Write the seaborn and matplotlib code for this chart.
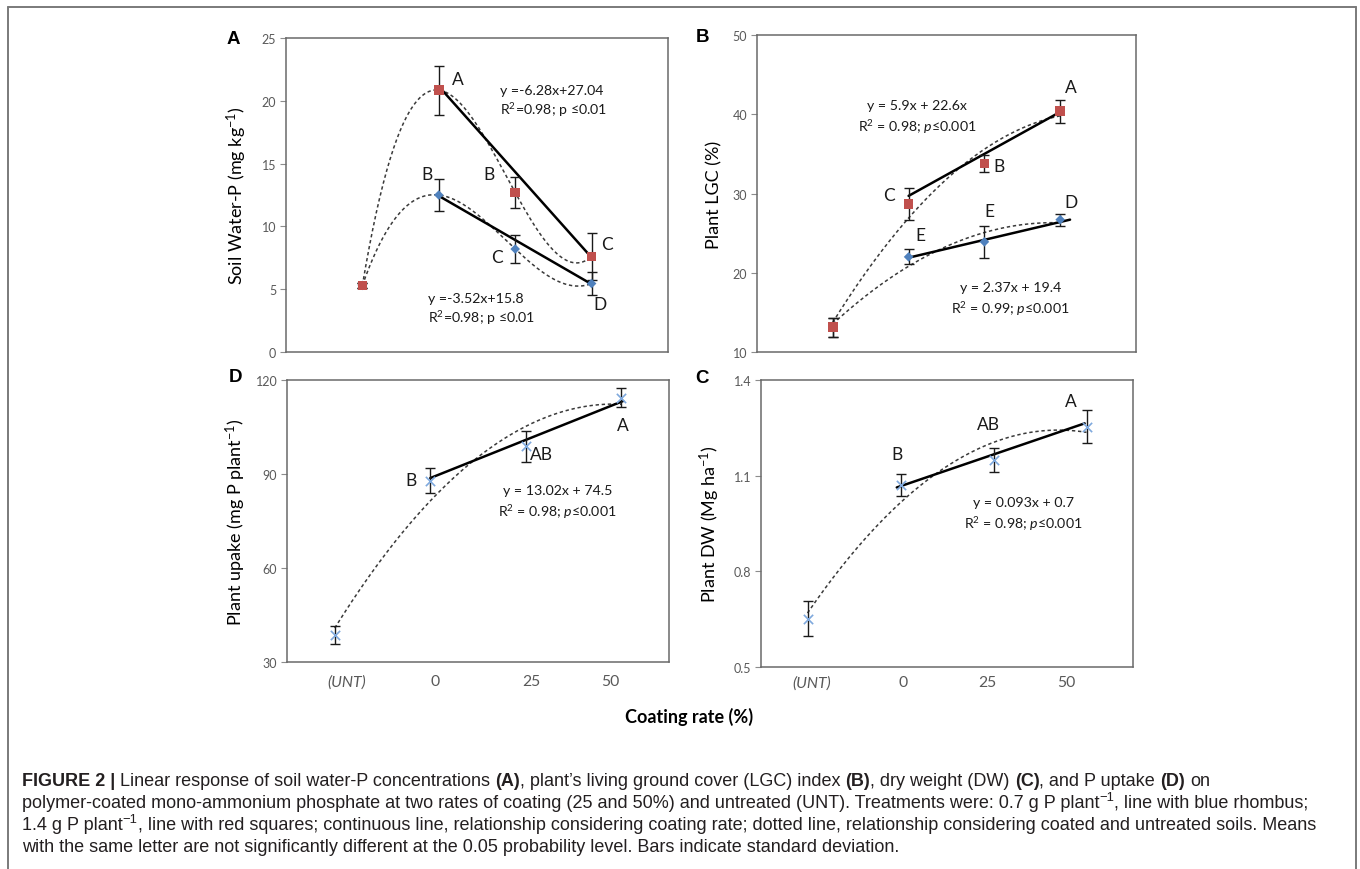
import numpy as np
import pandas as pd
import matplotlib
matplotlib.use("Agg")
import matplotlib.pyplot as plt
import seaborn as sns
from matplotlib.lines import Line2D

# ---------------- data ----------------
categories = ["(UNT)", "0", "25", "50"]
cat_pos = [1, 2, 3, 4]

# Panel A: soil water-P (mg kg-1)
a_red = [5.3, 20.85, 12.7, 7.6]
a_red_sd = [0.2, 1.95, 1.25, 1.9]
a_blue = [5.3, 12.5, 8.2, 5.45]
a_blue_sd = [0.2, 1.3, 1.1, 0.95]
a_red_trend = [21.15, 7.52]
a_blue_trend = [12.43, 5.4]

# Panel B: plant LGC (%)
b_red = [13.15, 28.7, 33.8, 40.4]
b_red_sd = [1.2, 2.0, 1.1, 1.45]
b_blue = [13.15, 22.0, 23.9, 26.7]
b_blue_sd = [1.2, 0.95, 2.0, 0.75]
b_red_trend = [29.7, 40.4]
b_blue_trend = [21.9, 26.7]

# Panel D: plant P uptake (mg P plant-1)
d_vals = [38.7, 87.8, 98.8, 114.4]
d_sd = [2.9, 4.0, 5.0, 3.0]
d_trend = [88.7, 113.3]

# Panel C: plant DW (Mg ha-1)
c_vals = [0.651, 1.070, 1.150, 1.254]
c_sd = [0.055, 0.034, 0.037, 0.053]
c_trend = [1.063, 1.264]

# ---------------- style ----------------
W, H = 1360, 870
RED = "#C0504D"
BLUE = "#4F81BD"
LBLUE = "#7FA9DD"
TICKC = "#595959"
CHART_FONT = ["Lato", "DejaVu Sans"]
CAP_FONT = ["Liberation Sans", "DejaVu Sans"]

sns.set_theme(style="white")
plt.rcParams["font.family"] = CHART_FONT
plt.rcParams["mathtext.fontset"] = "custom"
plt.rcParams["mathtext.rm"] = "Lato"
plt.rcParams["mathtext.it"] = "Lato:italic"
plt.rcParams["mathtext.bf"] = "Lato:bold"
plt.rcParams["mathtext.sf"] = "Lato"

fig = plt.figure(figsize=(W / 100, H / 100), dpi=100)
fig.patch.set_facecolor("white")

YLAB_SIZE = 13
XT_SIZE = 11.3
YT_SIZE = 9


def rect(l, t, r, b):
    return [l / W, 1 - b / H, (r - l) / W, (b - t) / H]


def fx(px):
    return px / W


def fy(py):
    return 1 - py / H


def style_axes(ax, xlim, ylim, yticks, ylabels):
    ax.set_xlim(*xlim)
    ax.set_ylim(*ylim)
    ax.set_yticks(yticks)
    ax.set_yticklabels(ylabels)
    for s in ax.spines.values():
        s.set_visible(True)
        s.set_color("#6a6a6a")
        s.set_linewidth(1.1)
    ax.tick_params(axis="y", left=True, direction="out", length=4, width=0.8,
                   color="#8c8c8c", labelsize=YT_SIZE, labelcolor=TICKC, pad=3)
    ax.tick_params(axis="x", bottom=False, length=0)
    ax.set_xlabel("")
    ax.grid(False)


def dotted_fit(ax, xs, ys, deg):
    coef = np.polyfit(xs, ys, deg)
    xx = np.linspace(min(xs), max(xs), 200)
    yy = np.polyval(coef, xx)
    sns.lineplot(x=xx, y=yy, ax=ax, color="#3a3a3a", lw=1.1,
                 linestyle=(0, (2.2, 1.8)), estimator=None, sort=False, zorder=2)


def trend(ax, xs, ys):
    sns.lineplot(x=xs, y=ys, ax=ax, color="black", lw=1.8, estimator=None,
                 sort=False, zorder=3)


def errs(ax, xs, ys, sd):
    ax.errorbar(xs, ys, yerr=sd, fmt="none", ecolor="#1a1a1a", elinewidth=1.0,
                capsize=3.5, capthick=1.0, zorder=3)


def letter(ax, x, y, s):
    ax.text(x, y, s, fontsize=12.5, ha="center", va="center", color="#1a1a1a")


def eq(ax, x, y1, y2, l1, l2, ha="center"):
    ax.text(x, y1, l1, fontsize=10.2, ha=ha, va="center", color="#1a1a1a")
    ax.text(x, y2, l2, fontsize=10.2, ha=ha, va="center", color="#1a1a1a")


# ---------------- Panel A ----------------
axA = fig.add_axes(rect(286, 39, 668, 353))
dotted_fit(axA, cat_pos, a_red, 3)
dotted_fit(axA, cat_pos, a_blue, 3)
trend(axA, [2, 4], a_red_trend)
trend(axA, [2, 4], a_blue_trend)
errs(axA, cat_pos, a_blue, a_blue_sd)
errs(axA, cat_pos, a_red, a_red_sd)
sns.scatterplot(x=cat_pos, y=a_blue, ax=axA, marker="D", s=24, color=BLUE,
                edgecolor="none", zorder=4)
sns.scatterplot(x=cat_pos, y=a_red, ax=axA, marker="s", s=46, color=RED,
                edgecolor="none", zorder=5)
style_axes(axA, (0, 5), (0, 25), [0, 5, 10, 15, 20, 25],
           ["0", "5", "10", "15", "20", "25"])
axA.set_xticks([])
axA.set_ylabel(r"Soil Water-P (mg kg$^{-1}$)", fontsize=YLAB_SIZE, color="black")
axA.yaxis.set_label_coords(-0.097, 0.5)
letter(axA, 2.25, 21.7, "A")
letter(axA, 2.66, 14.2, "B")
letter(axA, 4.2, 8.6, "C")
letter(axA, 1.85, 14.2, "B")
letter(axA, 2.76, 7.55, "C")
letter(axA, 4.11, 3.8, "D")
eq(axA, 2.80, 20.85, 19.34, "y =-6.28x+27.04", r"R$^{2}$=0.98; p ≤0.01", ha="left")
eq(axA, 1.86, 4.28, 2.76, "y =-3.52x+15.8", r"R$^{2}$=0.98; p ≤0.01", ha="left")

# ---------------- Panel B ----------------
axB = fig.add_axes(rect(757, 36, 1136, 353))
dotted_fit(axB, cat_pos, b_red, 2)
dotted_fit(axB, cat_pos, b_blue, 2)
trend(axB, [2, 4.02], b_red_trend)
trend(axB, [2, 4.13], b_blue_trend)
errs(axB, cat_pos, b_blue, b_blue_sd)
errs(axB, cat_pos, b_red, b_red_sd)
sns.scatterplot(x=cat_pos, y=b_blue, ax=axB, marker="D", s=24, color=BLUE,
                edgecolor="none", zorder=4)
sns.scatterplot(x=cat_pos, y=b_red, ax=axB, marker="s", s=46, color=RED,
                edgecolor="none", zorder=5)
style_axes(axB, (0, 5), (10, 50), [10, 20, 30, 40, 50],
           ["10", "20", "30", "40", "50"])
axB.set_xticks([])
axB.set_ylabel("Plant LGC (%)", fontsize=YLAB_SIZE, color="black")
axB.yaxis.set_label_coords(-0.092, 0.5)
letter(axB, 4.14, 43.4, "A")
letter(axB, 3.19, 33.5, "B")
letter(axB, 1.74, 29.8, "C")
letter(axB, 4.14, 28.9, "D")
letter(axB, 3.07, 27.8, "E")
letter(axB, 2.15, 24.8, "E")
eq(axB, 2.11, 41.15, 38.5, "y = 5.9x + 22.6x", r"R$^{2}$ = 0.98; $p$≤0.001")
eq(axB, 3.34, 18.2, 15.6, "y = 2.37x + 19.4", r"R$^{2}$ = 0.99; $p$≤0.001")

# ---------------- Panel D ----------------
axD = fig.add_axes(rect(287, 381, 669, 663))
dotted_fit(axD, cat_pos, d_vals, 2)
trend(axD, [2, 4.02], d_trend)
errs(axD, cat_pos, d_vals, d_sd)
sns.scatterplot(x=cat_pos, y=d_vals, ax=axD, marker="x", s=45, color=LBLUE,
                linewidth=1.2, zorder=5)
style_axes(axD, (0.5, 4.5), (30, 120), [30, 60, 90, 120],
           ["30", "60", "90", "120"])
axD.set_xticks([1.125, 2.05, 3.06, 3.88])
axD.set_xticklabels(categories, fontsize=XT_SIZE, color=TICKC)
axD.get_xticklabels()[0].set_fontstyle("italic")
axD.tick_params(axis="x", pad=9)
axD.set_ylabel(r"Plant upake (mg P plant$^{-1}$)", fontsize=YLAB_SIZE, color="black")
axD.yaxis.set_label_coords(-0.102, 0.5)
letter(axD, 1.80, 88.0, "B")
axD.text(3.04, 96.3, "AB", fontsize=12.5, ha="left", va="center", color="#1a1a1a")
letter(axD, 4.02, 105.5, "A")
eq(axD, 3.33, 84.9, 78.2, "y = 13.02x + 74.5", r"R$^{2}$ = 0.98; $p$≤0.001")

# ---------------- Panel C ----------------
axC = fig.add_axes(rect(761, 381, 1133, 668))
dotted_fit(axC, cat_pos, c_vals, 2)
trend(axC, [1.96, 3.98], c_trend)
errs(axC, cat_pos, c_vals, c_sd)
sns.scatterplot(x=cat_pos, y=c_vals, ax=axC, marker="x", s=45, color=LBLUE,
                linewidth=1.2, zorder=5)
style_axes(axC, (0.5, 4.5), (0.5, 1.4), [0.5, 0.8, 1.1, 1.4],
           ["0.5", "0.8", "1.1", "1.4"])
axC.set_xticks([1.04, 2.03, 2.93, 3.78])
axC.set_xticklabels(categories, fontsize=XT_SIZE, color=TICKC)
axC.get_xticklabels()[0].set_fontstyle("italic")
axC.tick_params(axis="x", pad=6)
axC.set_ylabel(r"Plant DW (Mg ha$^{-1}$)", fontsize=YLAB_SIZE, color="black")
axC.yaxis.set_label_coords(-0.105, 0.5)
letter(axC, 1.96, 1.168, "B")
letter(axC, 2.95, 1.261, "AB")
letter(axC, 3.83, 1.333, "A")
eq(axC, 3.32, 1.016, 0.951, "y = 0.093x + 0.7", r"R$^{2}$ = 0.98; $p$≤0.001")

# ---------------- figure-level text ----------------
for lab, px, py in [("A", 233, 40), ("B", 702, 38), ("D", 235, 378), ("C", 702, 379)]:
    fig.text(fx(px), fy(py), lab, family=CAP_FONT, fontweight="bold",
             fontsize=13.5, ha="center", va="center", color="black")

fig.text(fx(689), fy(717), "Coating rate (%)", fontweight="bold", fontsize=13,
         ha="center", va="center", color="black")

# outer frame
fc = "#7a7a7a"
fig.add_artist(Line2D([fx(8), fx(1356)], [fy(8), fy(8)], color=fc, lw=1.4))
fig.add_artist(Line2D([fx(8), fx(8)], [fy(8), fy(870)], color=fc, lw=1.4))
fig.add_artist(Line2D([fx(1356), fx(1356)], [fy(8), fy(870)], color=fc, lw=1.4))

# caption
CAP_SIZE = 13.0
CAP_COL = "#231f20"
renderer = fig.canvas.get_renderer()


def text_w(s, weight, size):
    t = fig.text(0, 0, s, family=CAP_FONT, fontweight=weight, fontsize=size)
    w = t.get_window_extent(renderer).width
    t.remove()
    return w


space_w = text_w("a a", "normal", CAP_SIZE) - text_w("aa", "normal", CAP_SIZE)


def draw_line(x_px, base_px, segments):
    x = x_px
    for txt, weight, sup in segments:
        size = CAP_SIZE * 0.72 if sup else CAP_SIZE
        lead = len(txt) - len(txt.lstrip(" "))
        trail = len(txt) - len(txt.rstrip(" "))
        core = txt.strip(" ")
        x += lead * space_w
        y = base_px - (CAP_SIZE * 0.55 if sup else 0)
        t = fig.text(fx(x), fy(y), core, family=CAP_FONT, fontweight=weight,
                     fontsize=size, ha="left", va="baseline", color=CAP_COL)
        x = t.get_window_extent(renderer).x1 + trail * space_w


N, B, S = "normal", "bold", True
cap_lines = [
    [("FIGURE 2 | ", B, False), ("Linear response of soil water-P concentrations ", N, False),
     ("(A)", B, False), (", plant’s living ground cover (LGC) index ", N, False),
     ("(B)", B, False), (", dry weight (DW) ", N, False), ("(C)", B, False),
     (", and P uptake ", N, False), ("(D)", B, False), (" on", N, False)],
    [("polymer-coated mono-ammonium phosphate at two rates of coating (25 and 50%) and "
      "untreated (UNT). Treatments were: 0.7 g P plant", N, False), ("−1", N, S),
     (", line with blue rhombus;", N, False)],
    [("1.4 g P plant", N, False), ("−1", N, S),
     (", line with red squares; continuous line, relationship considering coating rate; "
      "dotted line, relationship considering coated and untreated soils. Means", N, False)],
    [("with the same letter are not significantly different at the 0.05 probability level. "
      "Bars indicate standard deviation.", N, False)],
]
for i, segs in enumerate(cap_lines):
    draw_line(22, 786 + 22 * i, segs)

fig.savefig("out.png", dpi=100, facecolor="white")
